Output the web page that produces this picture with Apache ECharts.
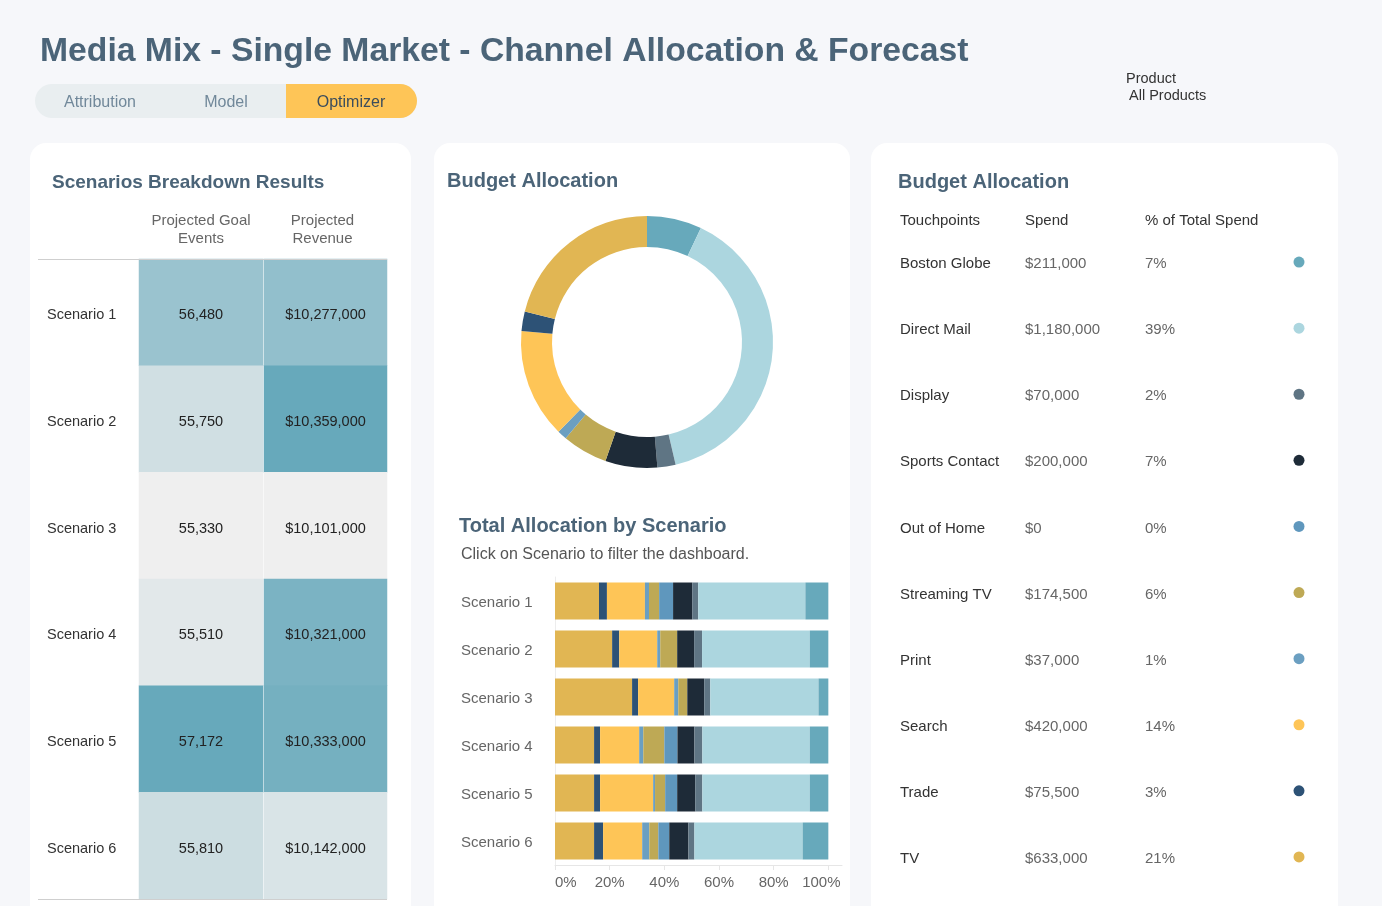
<!DOCTYPE html>
<html>
<head>
<meta charset="utf-8">
<script src="https://cdn.jsdelivr.net/npm/echarts@6/dist/echarts.min.js"></script>
<style>
html,body{margin:0;padding:0;background:#f6f7fa;}
#chart{width:1382px;height:906px;}
</style>
</head>
<body>
<div id="chart"></div>
<script>
// ---- Data ----
const scenarios = ['Scenario 1','Scenario 2','Scenario 3','Scenario 4','Scenario 5','Scenario 6'];
const goalEvents = [56480, 55750, 55330, 55510, 57172, 55810];
const revenue = [10277000, 10359000, 10101000, 10321000, 10333000, 10142000];

const touchpoints = ['Boston Globe','Direct Mail','Display','Sports Contact','Out of Home','Streaming TV','Print','Search','Trade','TV'];
const spend = [211000, 1180000, 70000, 200000, 0, 174500, 37000, 420000, 75500, 633000];
const spendPct = [7, 39, 2, 7, 0, 6, 1, 14, 3, 21];

// share of spend (%) per scenario, per touchpoint
const tvShare        = [16.1, 20.9, 28.2, 14.3, 14.3, 14.3];
const tradeShare     = [2.9, 2.6, 2.2, 2.2, 2.2, 3.3];
const searchShare    = [13.9, 13.9, 13.2, 14.3, 19.4, 14.3];
const printShare     = [1.5, 1.1, 1.5, 1.5, 0.7, 2.6];
const streamingShare = [3.7, 6.2, 3.3, 7.7, 3.7, 3.3];
const oohShare       = [5.1, 0, 0, 4.8, 4.4, 4.0];
const sportsShare    = [7.0, 6.2, 6.2, 6.2, 6.6, 7.0];
const displayShare   = [2.2, 2.9, 2.2, 2.9, 2.6, 2.2];
const directShare    = [39.2, 39.4, 39.6, 39.3, 39.3, 39.6];
const bostonShare    = [8.4, 6.8, 3.6, 6.8, 6.8, 9.4];

const xTickValues = [0, 20, 40, 60, 80, 100];
const xTickLabels = ['0%','20%','40%','60%','80%','100%'];

// ---- Styles ----
const palette = {
  'Boston Globe':'#67a9bb','Direct Mail':'#acd6df','Display':'#5f7584','Sports Contact':'#1e2b38',
  'Out of Home':'#5f97bd','Streaming TV':'#bea955','Print':'#6b9fc1','Search':'#fec557',
  'Trade':'#2d5276','TV':'#e1b653'
};
const barOrder = [
  ['TV', tvShare], ['Trade', tradeShare], ['Search', searchShare], ['Print', printShare],
  ['Streaming TV', streamingShare], ['Out of Home', oohShare], ['Sports Contact', sportsShare],
  ['Display', displayShare], ['Direct Mail', directShare], ['Boston Globe', bostonShare]
];
const FONT = '"Liberation Sans", Arial, sans-serif';
const HEAD = '#4b6478';

const fmt = v => v.toLocaleString('en-US');
// rich style that nudges a centred label a few pixels down
const nudge = (color, size, pad) => ({d:{color:color, fontSize:size, fontFamily:FONT, padding:[pad,0,0,0]}});
const wrap = s => '{d|' + s + '}';

function txt(x, y, text, font, fill, align) {
  return {type:'text', x:x, y:y + 2, z:50, silent:true,
    style:{text:text, font:font, fill:fill, textAlign:align||'left', textVerticalAlign:'middle'}};
}

const graphic = [
  {type:'rect', z:-20, silent:true, shape:{x:30,y:143,width:381,height:820,r:16}, style:{fill:'#ffffff'}},
  {type:'rect', z:-20, silent:true, shape:{x:434,y:143,width:416,height:820,r:16}, style:{fill:'#ffffff'}},
  {type:'rect', z:-20, silent:true, shape:{x:871,y:143,width:467,height:820,r:16}, style:{fill:'#ffffff'}},
  {type:'rect', z:-10, silent:true, shape:{x:35,y:84,width:382,height:34,r:17}, style:{fill:'#e9eef0'}},
  {type:'rect', z:-9, silent:true, shape:{x:286,y:84,width:131,height:34,r:[0,17,17,0]}, style:{fill:'#fec557'}},
  {type:'line', z:5, silent:true, shape:{x1:38,y1:259.5,x2:387,y2:259.5}, style:{stroke:'#cfcfcf',lineWidth:1}},
  {type:'line', z:5, silent:true, shape:{x1:38,y1:899.5,x2:387,y2:899.5}, style:{stroke:'#cfcfcf',lineWidth:1}},
  txt(40, 50, 'Media Mix - Single Market - Channel Allocation & Forecast', 'bold 33.7px ' + FONT, HEAD),
  txt(100, 101, 'Attribution', '16px ' + FONT, '#71889a', 'center'),
  txt(226, 101, 'Model', '16px ' + FONT, '#71889a', 'center'),
  txt(351, 101, 'Optimizer', '16px ' + FONT, '#3b4d5c', 'center'),
  txt(1126, 77, 'Product', '14.5px ' + FONT, '#333333'),
  txt(1129, 94, 'All Products', '14.5px ' + FONT, '#333333'),
  txt(52, 181, 'Scenarios Breakdown Results', 'bold 19px ' + FONT, HEAD),
  txt(447, 179, 'Budget Allocation', 'bold 20px ' + FONT, HEAD),
  txt(459, 524, 'Total Allocation by Scenario', 'bold 20px ' + FONT, HEAD),
  txt(461, 553, 'Click on Scenario to filter the dashboard.', '16px ' + FONT, '#555555'),
  txt(898, 180, 'Budget Allocation', 'bold 20px ' + FONT, HEAD),
  txt(900, 219, 'Touchpoints', '15px ' + FONT, '#333333'),
  txt(1025, 219, 'Spend', '15px ' + FONT, '#333333'),
  txt(1145, 219, '% of Total Spend', '15px ' + FONT, '#333333')
];

const hidden = {show:false};
const option = {
  animation:false,
  backgroundColor:'#f6f7fa',
  textStyle:{fontFamily:FONT},
  graphic: graphic,
  grid: [
    {left:139, top:259, width:124, height:640},
    {left:264, top:259, width:123, height:640},
    {left:555, top:577, width:287, height:288},
    {left:1279, top:229, width:40, height:661}
  ],
  xAxis: [
    {gridIndex:0, type:'category', position:'top', data:['Projected Goal\nEvents'],
      axisLine:hidden, axisTick:hidden, splitLine:hidden,
      axisLabel:{color:'#666', fontSize:15, lineHeight:18, margin:11}},
    {gridIndex:1, type:'category', position:'top', data:['Projected\nRevenue'],
      axisLine:hidden, axisTick:hidden, splitLine:hidden,
      axisLabel:{color:'#666', fontSize:15, lineHeight:18, margin:11, padding:[0,6,0,0]}},
    {gridIndex:2, type:'value', min:0, max:105,
      axisLine:{show:true, lineStyle:{color:'#e6e6e6'}},
      axisTick:{show:true, length:5, lineStyle:{color:'#e6e6e6'}, customValues:xTickValues},
      splitLine:hidden,
      axisLabel:{color:'#666', fontSize:15, margin:10, customValues:xTickValues,
        alignMinLabel:'left',
        formatter:(v)=>{
          const s = xTickLabels[xTickValues.indexOf(v)] || '';
          return v === 100 ? '{m|' + s + '}' : s;
        },
        rich:{m:{color:'#666', fontSize:15, padding:[0,14,0,0]}}}},
    {gridIndex:3, type:'category', data:['dot'], axisLine:hidden, axisTick:hidden, axisLabel:hidden, splitLine:hidden}
  ],
  yAxis: [
    {gridIndex:0, type:'category', data:scenarios, inverse:true, axisLine:hidden, axisTick:hidden, splitLine:hidden,
      axisLabel:{align:'left', margin:92, color:'#333', fontSize:14.5, interval:0,
        formatter:wrap, rich:nudge('#333', 14.5, 6)}},
    {gridIndex:1, type:'category', data:scenarios, inverse:true, axisLine:hidden, axisTick:hidden, splitLine:hidden, axisLabel:hidden},
    {gridIndex:2, type:'category', data:scenarios, inverse:true,
      axisLine:{show:true, lineStyle:{color:'#ededed'}}, axisTick:hidden, splitLine:hidden,
      axisLabel:{align:'left', margin:94, color:'#666', fontSize:15, interval:0,
        formatter:wrap, rich:nudge('#666', 15, 4)}},
    {gridIndex:3, type:'category', position:'left', data:touchpoints, inverse:true, axisLine:hidden, axisTick:hidden, splitLine:hidden,
      axisLabel:{align:'left', margin:379, color:'#333', fontSize:15, interval:0,
        formatter:wrap, rich:nudge('#333', 15, 4)}},
    {gridIndex:3, type:'category', position:'left', data:touchpoints, inverse:true, axisLine:hidden, axisTick:hidden, splitLine:hidden,
      axisLabel:{align:'left', margin:254, color:'#666', fontSize:15, interval:0,
        formatter:(v, i)=>wrap('$' + fmt(spend[i])), rich:nudge('#666', 15, 4)}},
    {gridIndex:3, type:'category', position:'left', data:touchpoints, inverse:true, axisLine:hidden, axisTick:hidden, splitLine:hidden,
      axisLabel:{align:'left', margin:134, color:'#666', fontSize:15, interval:0,
        formatter:(v, i)=>wrap(spendPct[i] + '%'), rich:nudge('#666', 15, 4)}}
  ],
  visualMap: [
    {type:'continuous', show:false, seriesIndex:0, dimension:2,
      min:Math.min(...goalEvents), max:Math.max(...goalEvents), inRange:{color:['#efefef','#67a9bb']}},
    {type:'continuous', show:false, seriesIndex:1, dimension:2,
      min:Math.min(...revenue), max:Math.max(...revenue), inRange:{color:['#efefef','#67a9bb']}}
  ],
  series: [
    {type:'heatmap', xAxisIndex:0, yAxisIndex:0, data:goalEvents.map((v,i)=>[0,i,v]),
      label:{show:true, color:'#222', fontSize:14.5, formatter:p=>wrap(fmt(p.value[2])), rich:nudge('#222', 14.5, 6)},
      emphasis:{disabled:true}},
    {type:'heatmap', xAxisIndex:1, yAxisIndex:1, data:revenue.map((v,i)=>[0,i,v]),
      label:{show:true, color:'#222', fontSize:14.5, formatter:p=>wrap('$' + fmt(p.value[2])), rich:nudge('#222', 14.5, 6)},
      emphasis:{disabled:true}},
    {type:'pie', center:[647,342], radius:[95,126], startAngle:90, clockwise:true,
      label:hidden, labelLine:hidden, emphasis:{disabled:true}, silent:true,
      data:touchpoints.map((n,i)=>({name:n, value:spend[i], itemStyle:{color:palette[n]}}))},
    ...barOrder.map(([n, arr])=>({
      type:'bar', name:n, stack:'total', xAxisIndex:2, yAxisIndex:2, barWidth:37,
      itemStyle:{color:palette[n]}, emphasis:{disabled:true}, data:arr
    })),
    {type:'scatter', xAxisIndex:3, yAxisIndex:3, symbolSize:11, emphasis:{disabled:true},
      data:touchpoints.map((n,i)=>({value:[0,i], itemStyle:{color:palette[n], opacity:1}}))}
  ]
};

const chart = echarts.init(document.getElementById('chart'), null, {renderer:'canvas'});
chart.setOption(option);
</script>
</body>
</html>
